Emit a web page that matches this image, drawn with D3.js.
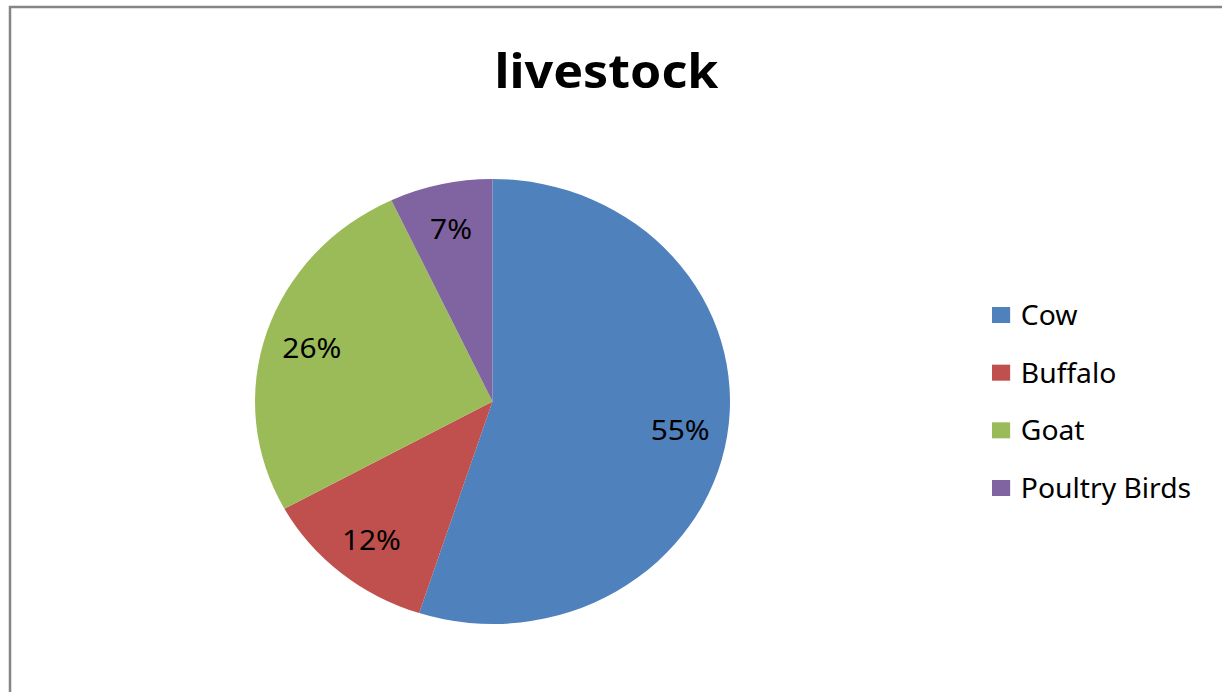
<!DOCTYPE html>
<html>
<head>
<meta charset="utf-8">
<script src="https://cdn.jsdelivr.net/npm/d3@7"></script>
<style>
  body { margin: 0; background: #fff; }
  svg { display: block; font-family: 'Noto Sans', 'Open Sans', sans-serif; }
</style>
</head>
<body>
<div id="chart"></div>
<script>
const categories = ['Cow', 'Buffalo', 'Goat', 'Poultry Birds']
const shares = [55, 12, 26, 7]
const colors = ['#4F81BD', '#C0504D', '#9BBB59', '#8064A2']
const title = 'livestock'

const width = 1222
const height = 692
// original picture is stretched a little sideways
const sx = 1.0674

const svg = d3.select('#chart').append('svg')
  .attr('width', width)
  .attr('height', height)

// frame (only top and left edges visible)
svg.append('path')
  .attr('d', `M10,${height} L10,7 L${width},7`)
  .attr('fill', 'none')
  .attr('stroke', '#858585')
  .attr('stroke-width', 2.5)

const g = svg.append('g').attr('transform', `scale(${sx},1)`)

g.append('text')
  .attr('x', 606.5 / sx)
  .attr('y', 88)
  .attr('text-anchor', 'middle')
  .attr('font-weight', 'bold')
  .attr('font-size', 47)
  .attr('fill', '#000')
  .text(title)

const radius = 222.5
const cx = 492.5 / sx
const cy = 401.5

const pie = d3.pie().sort(null).value(d => d)
const arc = d3.arc().innerRadius(0).outerRadius(radius)
const labelArc = d3.arc().innerRadius(radius * 0.8).outerRadius(radius * 0.8)

const pieG = g.append('g').attr('transform', `translate(${cx},${cy})`)
const arcs = pie(shares)

pieG.selectAll('path')
  .data(arcs).enter()
  .append('path')
  .attr('d', arc)
  .attr('fill', (d, i) => colors[i])

pieG.selectAll('text')
  .data(arcs).enter()
  .append('text')
  .attr('transform', d => `translate(${labelArc.centroid(d)})`)
  .attr('text-anchor', 'middle')
  .attr('dominant-baseline', 'central')
  .attr('font-size', 28)
  .attr('fill', '#000')
  .text(d => d.data + '%')

// legend
const legend = g.append('g')
const rowY = d3.scalePoint().domain(categories).range([315, 488])

const item = legend.selectAll('g')
  .data(categories).enter()
  .append('g')
  .attr('transform', d => `translate(${992 / sx},${rowY(d)})`)

item.append('rect')
  .attr('x', 0)
  .attr('y', -8)
  .attr('width', 17)
  .attr('height', 16)
  .attr('fill', (d, i) => colors[i])

item.append('text')
  .attr('x', 27)
  .attr('y', 0)
  .attr('dominant-baseline', 'central')
  .attr('font-size', 26.5)
  .attr('fill', '#000')
  .text(d => d)
</script>
</body>
</html>
